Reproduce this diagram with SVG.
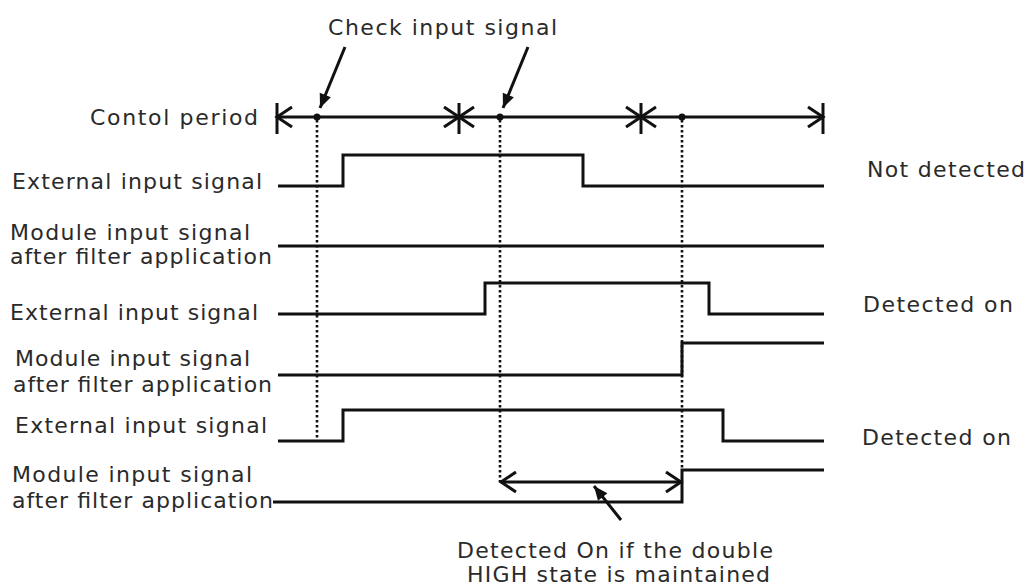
<svg xmlns="http://www.w3.org/2000/svg" width="1030" height="586" viewBox="0 0 1030 586">
<defs>
<style>
.t{font-family:"DejaVu Sans","Liberation Sans",sans-serif;font-size:22px;fill:#2a2a2a}
.sig{fill:none;stroke:#111;stroke-width:3}
.dot{fill:none;stroke:#111;stroke-width:2.6;stroke-dasharray:2.5 2.5}
.per{fill:none;stroke:#111;stroke-width:3;marker-start:url(#oa);marker-end:url(#oa)}
.tick{stroke:#111;stroke-width:3}
.ptr{stroke:#111;stroke-width:3;marker-end:url(#fa)}
</style>
<marker id="oa" markerUnits="userSpaceOnUse" markerWidth="24" markerHeight="24" viewBox="-20 -12 24 24" refX="0" refY="0" orient="auto-start-reverse" overflow="visible">
<path d="M-15,-10 L0,0 L-15,10" fill="none" stroke="#111" stroke-width="3"/>
</marker>
<marker id="fa" markerUnits="userSpaceOnUse" markerWidth="24" markerHeight="24" viewBox="-20 -12 24 24" refX="0" refY="0" orient="auto" overflow="visible">
<path d="M-14,-6 L0,0 L-14,6 Z" fill="#111"/>
</marker>
</defs>
<rect width="1030" height="586" fill="#fff"/>

<g id="labels">
<text class="t" x="328" y="35" textLength="229" lengthAdjust="spacing">Check input signal</text>
<text class="t" x="90" y="125" textLength="168" lengthAdjust="spacing">Contol period</text>
<text class="t" x="12" y="189" textLength="250" lengthAdjust="spacing">External input signal</text>
<text class="t" x="10" y="240" textLength="240" lengthAdjust="spacing">Module input signal</text>
<text class="t" x="10" y="264" textLength="262" lengthAdjust="spacing">after filter application</text>
<text class="t" x="10" y="320" textLength="248" lengthAdjust="spacing">External input signal</text>
<text class="t" x="15" y="366" textLength="235" lengthAdjust="spacing">Module input signal</text>
<text class="t" x="13" y="392" textLength="259" lengthAdjust="spacing">after filter application</text>
<text class="t" x="15" y="433" textLength="252" lengthAdjust="spacing">External input signal</text>
<text class="t" x="12" y="482" textLength="240" lengthAdjust="spacing">Module input signal</text>
<text class="t" x="12" y="508" textLength="261" lengthAdjust="spacing">after filter application</text>
<text class="t" x="867" y="177" textLength="158" lengthAdjust="spacing">Not detected</text>
<text class="t" x="863" y="312" textLength="150" lengthAdjust="spacing">Detected on</text>
<text class="t" x="862" y="445" textLength="149" lengthAdjust="spacing">Detected on</text>
<text class="t" x="457" y="558" textLength="316" lengthAdjust="spacing">Detected On if the double</text>
<text class="t" x="467" y="582" textLength="303" lengthAdjust="spacing">HIGH state is maintained</text>
</g>

<g id="control-period">
<line class="tick" x1="277" y1="103" x2="277" y2="134"/>
<line class="tick" x1="459" y1="103" x2="459" y2="134"/>
<line class="tick" x1="641" y1="103" x2="641" y2="134"/>
<line class="tick" x1="823" y1="103" x2="823" y2="134"/>
<circle cx="317" cy="117" r="3.5" fill="#111"/>
<circle cx="500" cy="117" r="3.5" fill="#111"/>
<circle cx="682" cy="117" r="3.5" fill="#111"/>
</g>

<g id="signals">
<path id="ext1" class="sig" d="M278,186 H343 V155 H583 V186 H824"/>
<path id="mod1" class="sig" d="M278,246 H824"/>
<path id="ext2" class="sig" d="M278,314 H485 V283 H709 V314 H824"/>
<path id="mod2" class="sig" d="M278,375 H682 V343 H824"/>
<path id="ext3" class="sig" d="M278,441 H343 V410 H723 V441 H824"/>
<path id="mod3" class="sig" d="M273,502 H682 V470 H824"/>
</g>

<g id="connectors">
<line class="per" x1="277" y1="117" x2="459" y2="117"/>
<line class="per" x1="459" y1="117" x2="641" y2="117"/>
<line class="per" x1="641" y1="117" x2="823" y2="117"/>
<line class="dot" x1="317" y1="120" x2="317" y2="441"/>
<line class="dot" x1="500" y1="120" x2="500" y2="482"/>
<line class="dot" x1="682" y1="120" x2="682" y2="470"/>
<line class="ptr" x1="345" y1="47" x2="320" y2="108"/>
<line class="ptr" x1="528" y1="47" x2="503" y2="108"/>
<line class="per" x1="501" y1="482" x2="681" y2="482"/>
<line class="ptr" x1="621" y1="520" x2="594" y2="486"/>
</g>
</svg>
